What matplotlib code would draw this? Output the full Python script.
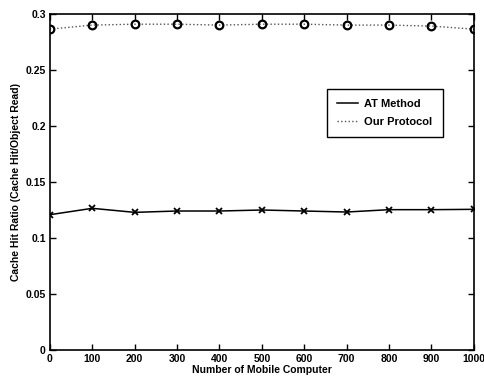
import matplotlib
matplotlib.use("Agg")
from matplotlib import pyplot as plt

plt.rcParams["font.family"] = ["Liberation Sans", "DejaVu Sans"]

mobile_computers = [0, 100, 200, 300, 400, 500, 600, 700, 800, 900, 1000]
at_method = [0.1208, 0.1265, 0.1229, 0.1241, 0.1241, 0.1250, 0.1241, 0.1232, 0.1253, 0.1253, 0.1256]
our_protocol = [0.2866, 0.2902, 0.2910, 0.2910, 0.2902, 0.2910, 0.2910, 0.2902, 0.2902, 0.2893, 0.2866]

x_ticks = [0, 100, 200, 300, 400, 500, 600, 700, 800, 900, 1000]
y_ticks = [0, 0.05, 0.1, 0.15, 0.2, 0.25, 0.3]
y_tick_labels = ["0", "0.05", "0.1", "0.15", "0.2", "0.25", "0.3"]

fig = plt.figure(figsize=(4.84, 3.82), dpi=100)
ax = fig.add_axes([0.103, 0.084, 0.876, 0.879])

# lines (legend entries) and markers drawn separately, MATLAB style
ax.plot(mobile_computers, at_method, "-", color="black", lw=1.1, label="AT Method")
ax.plot(mobile_computers, our_protocol, ":", color="#555555", lw=1.0, label="Our Protocol")
ax.plot(mobile_computers, at_method, "x", color="black", ms=5, mew=1.3)
ax.plot(mobile_computers, our_protocol, "o", color="black", mfc="none", ms=5.5, mew=1.6)

ax.set_xlim(0, 1000)
ax.set_ylim(0, 0.3)
ax.set_xticks(x_ticks)
ax.set_yticks(y_ticks)
ax.set_yticklabels(y_tick_labels)
ax.tick_params(direction="in", top=True, right=True, length=4, width=1, labelsize=7.5, pad=3)
for lbl in ax.get_xticklabels() + ax.get_yticklabels():
    lbl.set_fontweight("bold")
for sp in ax.spines.values():
    sp.set_linewidth(1.2)

ax.set_xlabel("Number of Mobile Computer", fontsize=7.5, fontweight="bold", labelpad=1)
ax.set_ylabel("Cache Hit Ratio (Cache Hit/Object Read)", fontsize=7.5, fontweight="bold", labelpad=3)

leg = ax.legend(loc="upper left", bbox_to_anchor=(0.653, 0.777), fancybox=False, edgecolor="black",
                framealpha=1, fontsize=8, handlelength=1.9, handletextpad=0.6, borderpad=0.9,
                labelspacing=0.75, borderaxespad=0)
leg.get_frame().set_linewidth(1.0)
for t in leg.get_texts():
    t.set_fontweight("bold")

fig.savefig("out.png", dpi=100)
